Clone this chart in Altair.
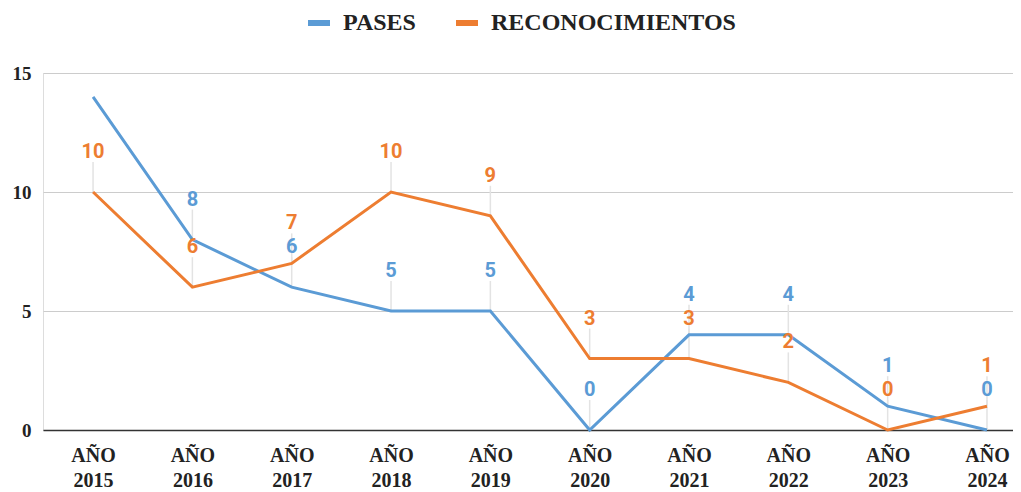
import altair as alt
import pandas as pd

years = ["2015", "2016", "2017", "2018", "2019", "2020", "2021", "2022", "2023", "2024"]
pases = [14, 8, 6, 5, 5, 0, 4, 4, 1, 0]
reconocimientos = [10, 6, 7, 10, 9, 3, 3, 2, 0, 1]
series_names = ["PASES", "RECONOCIMIENTOS"]
series_colors = ["#5b9bd5", "#ed7d31"]

rows = []
for y, v in zip(years, pases):
    rows.append({"year": y, "serie": series_names[0], "value": v})
for y, v in zip(years, reconocimientos):
    rows.append({"year": y, "serie": series_names[1], "value": v})
df = pd.DataFrame(rows)

serif = "Liberation Serif"
sans = "Roboto"

x_enc = alt.X(
    "year:N",
    sort=years,
    scale=alt.Scale(type="point", padding=0.383, align=0.658),
    axis=alt.Axis(
        title=None,
        labelAngle=0,
        labelExpr="['AÑO', datum.label]",
        labelFont=serif,
        labelFontWeight="bold",
        labelFontSize=20,
        labelColor="#222222",
        labelLineHeight=25,
        labelPadding=15,
        ticks=False,
        grid=False,
        domainColor="#333333",
        domainWidth=1.5,
    ),
)
y_enc = alt.Y(
    "value:Q",
    scale=alt.Scale(domain=[0, 15], nice=False),
    axis=alt.Axis(
        title=None,
        values=[0, 5, 10, 15],
        labelFont=serif,
        labelFontWeight="bold",
        labelFontSize=19,
        labelColor="#222222",
        labelPadding=12,
        ticks=False,
        domain=False,
        gridColor="#cccccc",
        gridWidth=1,
    ),
)
color_enc = alt.Color(
    "serie:N",
    scale=alt.Scale(domain=series_names, range=series_colors),
    legend=alt.Legend(
        title=None,
        orient="none",
        legendX=262,
        legendY=-64,
        direction="horizontal",
        symbolType="stroke",
        symbolStrokeWidth=6,
        symbolSize=484,
        labelFont=serif,
        labelFontWeight="bold",
        labelFontSize=24,
        labelColor="#222222",
        labelOffset=10,
        labelLimit=0,
        columnPadding=28,
        padding=0,
    ),
)

base = alt.Chart(df)

leaders = base.transform_filter("datum.value <= 13").mark_rule(
    color="#e3e3e3", strokeWidth=1.5, y2Offset=-30
).encode(x=x_enc, y=y_enc, y2="value:Q", detail="serie:N")

lines = base.mark_line(strokeWidth=3).encode(
    x=x_enc, y=y_enc, color=color_enc
)

labels = base.transform_filter("datum.value <= 13").mark_text(
    dy=-40, font=sans, fontWeight="bold", fontSize=20, baseline="middle", align="center"
).encode(
    x=x_enc,
    y=y_enc,
    text="value:Q",
    color=alt.Color("serie:N", scale=alt.Scale(domain=series_names, range=series_colors), legend=None),
)

chart = (
    alt.layer(leaders, lines, labels)
    .properties(width=970, height=357, padding={"left": 4, "right": 0, "top": 1, "bottom": 2})
    .configure_view(stroke=None)
    .configure(background="white")
)

chart.save("out.html", embed_options={"renderer": "svg", "actions": False})
